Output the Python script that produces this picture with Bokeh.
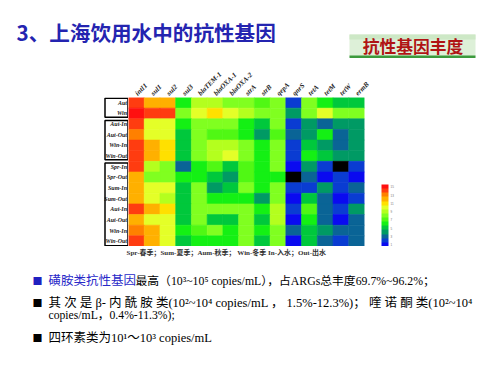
from bokeh.plotting import figure
from bokeh.layouts import column, row
from bokeh.models import (ColumnDataSource, LinearColorMapper, ColorBar, FixedTicker,
                          Range1d, FactorRange)
from bokeh.core.properties import value
from bokeh.transform import transform
from bokeh.embed import file_html
from bokeh.resources import INLINE

# ---------------- data ----------------
genes = ["intI1", "sul1", "sul2", "sul3", "blaTEM-1", "blaOXA-1", "blaOXA-2",
         "strA", "strB", "qepA", "qnrS", "tetA", "tetM", "tetW", "ermB"]
samples = ["Aut", "Win", "Aut-In", "Aut-Out", "Win-In", "Win-Out",
           "Spr-In", "Spr-Out", "Sum-In", "Sum-Out", "Aut-In", "Aut-Out", "Win-In", "Win-Out"]
group_sizes = [2, 4, 8]

# relative abundance level (0 = lowest, 15 = highest)
row_aut      = [14, 12, 12, 6, 9, 9, 8, 8, 7, 8, 2, 8, 6, 5, 5]
row_win      = [15, 14, 14, 8, 10, 11, 10, 9, 8, 8, 4, 8, 10, 8, 8]
row_autin_a  = [14, 10, 10, 6, 8, 8, 8, 6, 5, 8, 2, 4, 3, 4, 4]
row_autout_a = [13, 10, 10, 5, 8, 7, 7, 6, 4, 7, 3, 4, 6, 3, 4]
row_winin_a  = [14, 12, 11, 5, 8, 9, 9, 8, 6, 8, 2, 5, 4, 3, 4]
row_winout_a = [14, 12, 11, 5, 8, 9, 10, 8, 6, 8, 2, 6, 5, 4, 4]
row_sprin    = [14, 9, 8, 3, 6, 7, 5, 7, 6, 8, 1, 4, 2, 0, 2]
row_sprout   = [12, 8, 8, 6, 6, 5, 4, 7, 6, 6, 0, 3, 1, 2, 1]
row_sumin    = [12, 10, 10, 5, 8, 4, 5, 8, 6, 8, 2, 2, 4, 2, 3]
row_sumout   = [12, 10, 9, 5, 8, 6, 6, 6, 4, 8, 1, 5, 3, 1, 2]
row_autin_b  = [14, 12, 11, 5, 8, 8, 8, 8, 6, 9, 2, 7, 3, 2, 4]
row_autout_b = [12, 10, 10, 5, 8, 5, 5, 8, 5, 9, 1, 6, 3, 1, 3]
row_winin_b  = [13, 12, 10, 6, 7, 8, 6, 8, 6, 8, 3, 5, 4, 3, 3]
row_winout_b = [14, 12, 10, 5, 6, 6, 6, 8, 5, 8, 1, 5, 3, 2, 3]

levels = [row_aut, row_win, row_autin_a, row_autout_a, row_winin_a, row_winout_a,
          row_sprin, row_sprout, row_sumin, row_sumout, row_autin_b, row_autout_b,
          row_winin_b, row_winout_b]

palette = ["#000000", "#0A0AF0", "#0A3CD2", "#0A6496", "#009A64", "#00C83C",
           "#14F014", "#50F814", "#80FF20", "#B4FF1E", "#E4FF28", "#FFE000",
           "#FFB000", "#FF8000", "#FF3C10", "#FF1010"]
colorbar_ticks = list(range(1, 16))

title_text = "3、上海饮用水中的抗性基因"
badge_text = "抗性基因丰度"
note_text = "Spr-春季；Sum-夏季；Aum-秋季；  Win-冬季    In-入水；Out-出水"
bullet_lead = "磺胺类抗性基因"
line1_rest = "最高（10³~10⁵ copies/mL），占ARGs总丰度69.7%~96.2%；"
line2 = "其 次 是 β- 内 酰 胺 类(10²~10⁴   copies/mL ，  1.5%-12.3%)；   喹 诺 酮 类(10²~10⁴"
line3 = "copies/mL，0.4%-11.3%);"
line4 = "四环素类为10¹～10³ copies/mL"

SERIF = "'Liberation Serif', 'Noto Sans CJK SC'"
SANS = "'Noto Sans CJK SC'"


def blank(w, h, xr, yr, top=0, bottom=0):
    f = figure(width=w, height=h, x_range=xr, y_range=yr, output_backend="svg",
               toolbar_location=None, x_axis_location=None, y_axis_location=None,
               min_border_left=0, min_border_right=0,
               min_border_top=top, min_border_bottom=bottom)
    f.outline_line_color = None
    f.grid.visible = False
    f.background_fill_color = "white"
    f.border_fill_color = "white"
    return f


HDR = 58
# ---------------- header ----------------
hdr = blank(500, HDR, Range1d(0, 500), Range1d(HDR, 0))
hdr.text(x=[16], y=[31], text=[title_text], text_font=value(SANS), text_font_style="bold",
         text_font_size=value("20.6px"), text_color="#2424B0", text_baseline="middle")
hdr.quad(left=[349], right=[475], top=[34], bottom=[56], fill_color="#DDF0D8", line_color=None)
hdr.quad(left=[349], right=[475], top=[34], bottom=[39], fill_color="#CDE8C6", line_color=None)
hdr.quad(left=[349], right=[475], top=[55], bottom=[57.5], fill_color="#3C9A3C", line_color=None)
hdr.text(x=[412.5], y=[45], text=[badge_text], text_font=value(SANS), text_font_style="bold",
         text_font_size=value("16.8px"), text_color="#B01414", text_baseline="middle",
         text_align="center")

# ---------------- heatmap ----------------
TOP, BOT = 97 - HDR, 0
MID = TOP + 149 + BOT
yr = Range1d(len(samples), 0)

xs, ys, vs = [], [], []
for i, r in enumerate(levels):
    for j, v in enumerate(r):
        xs.append(genes[j])
        ys.append(i + 0.5)
        vs.append(v)
src = ColumnDataSource(dict(gene=xs, row=ys, level=vs))
mapper = LinearColorMapper(palette=palette, low=-0.5, high=15.5)

hm = figure(width=372, height=MID, x_range=FactorRange(*genes), y_range=yr,
            x_axis_location="above", y_axis_location=None,
            output_backend="svg", toolbar_location=None,
            min_border_left=0, min_border_right=136, min_border_top=TOP, min_border_bottom=BOT)
hm.outline_line_color = None
hm.grid.visible = False
hm.background_fill_color = "white"
hm.border_fill_color = "white"
hm.rect(x="gene", y="row", width=1, height=1, source=src,
        fill_color=transform("level", mapper), line_color=transform("level", mapper),
        line_width=0.6)

xa = hm.xaxis[0]
xa.major_label_orientation = 0.785
xa.axis_line_color = None
xa.major_tick_line_color = None
xa.major_tick_out = 0
xa.major_tick_in = 0
xa.major_label_text_font = "Liberation Serif"
xa.major_label_text_font_style = "bold italic"
xa.major_label_text_font_size = "7px"
xa.major_label_text_color = "#222222"
xa.major_label_standoff = 3

cb_mapper = LinearColorMapper(palette=palette[1:], low=0.5, high=15.5)
cb = ColorBar(color_mapper=cb_mapper, width=7, height=62, location=(17, 0),
              padding=0, margin=0, ticker=FixedTicker(ticks=colorbar_ticks),
              major_label_text_font_size="3px", major_label_text_color="#777777",
              major_tick_line_color=None, bar_line_color=None,
              border_line_color=None, background_fill_color=None, label_standoff=2)
hm.add_layout(cb, "right")

# ---------------- row labels with group frames ----------------
lf = blank(128, MID, Range1d(0, 128), yr, top=TOP, bottom=BOT)
lf.text(x=[126.5] * len(samples), y=[i + 0.5 for i in range(len(samples))], text=samples,
        text_font=value("Liberation Serif"), text_font_style="bold italic",
        text_font_size=value("6px"), text_color="#222222", text_align="right",
        text_baseline="middle")
g_top, g_bot = [], []
start = 0
for gs in group_sizes:
    g_top.append(start + 0.15)
    g_bot.append(start + gs - 0.15)
    start += gs
g_bot[-1] = len(samples) - 0.08
g_top[0] = 0.08
lf.quad(left=[104.5] * len(group_sizes), right=[127.5] * len(group_sizes),
        top=g_top, bottom=g_bot, fill_color=None, line_color="black", line_width=1.5)

# ---------------- bottom text ----------------
BH = 375 - HDR - MID
Y0 = HDR + MID
bt = blank(500, BH, Range1d(0, 500), Range1d(BH, 0))
bt.text(x=[126], y=[252 - Y0], text=[note_text], text_font=value(SERIF), text_font_style="bold",
        text_font_size=value("7px"), text_color="#333333", text_baseline="middle")
bt.text(x=[32, 32, 32], y=[280 - Y0, 302 - Y0, 337 - Y0], text=["■", "■", "■"],
        text_font=value(SANS), text_font_size=value("10px"),
        text_color=["#2020C0", "black", "black"], text_baseline="middle")
bt.text(x=[48], y=[280 - Y0], text=[bullet_lead], text_font=value(SERIF),
        text_font_size=value("12.5px"), text_color="#2828C8", text_baseline="middle")
bt.text(x=[135], y=[280 - Y0], text=[line1_rest], text_font=value(SERIF),
        text_font_size=value("11.8px"), text_color="black", text_baseline="middle")
bt.text(x=[48], y=[302 - Y0], text=[line2], text_font=value(SERIF),
        text_font_size=value("12.5px"), text_color="black", text_baseline="middle")
bt.text(x=[48], y=[315 - Y0], text=[line3], text_font=value(SERIF),
        text_font_size=value("11.7px"), text_color="black", text_baseline="middle")
bt.text(x=[48], y=[337 - Y0], text=[line4], text_font=value(SERIF),
        text_font_size=value("12.5px"), text_color="black", text_baseline="middle")

page = column(hdr, row(lf, hm), bt)
open("out.html", "w").write(file_html(page, INLINE))
